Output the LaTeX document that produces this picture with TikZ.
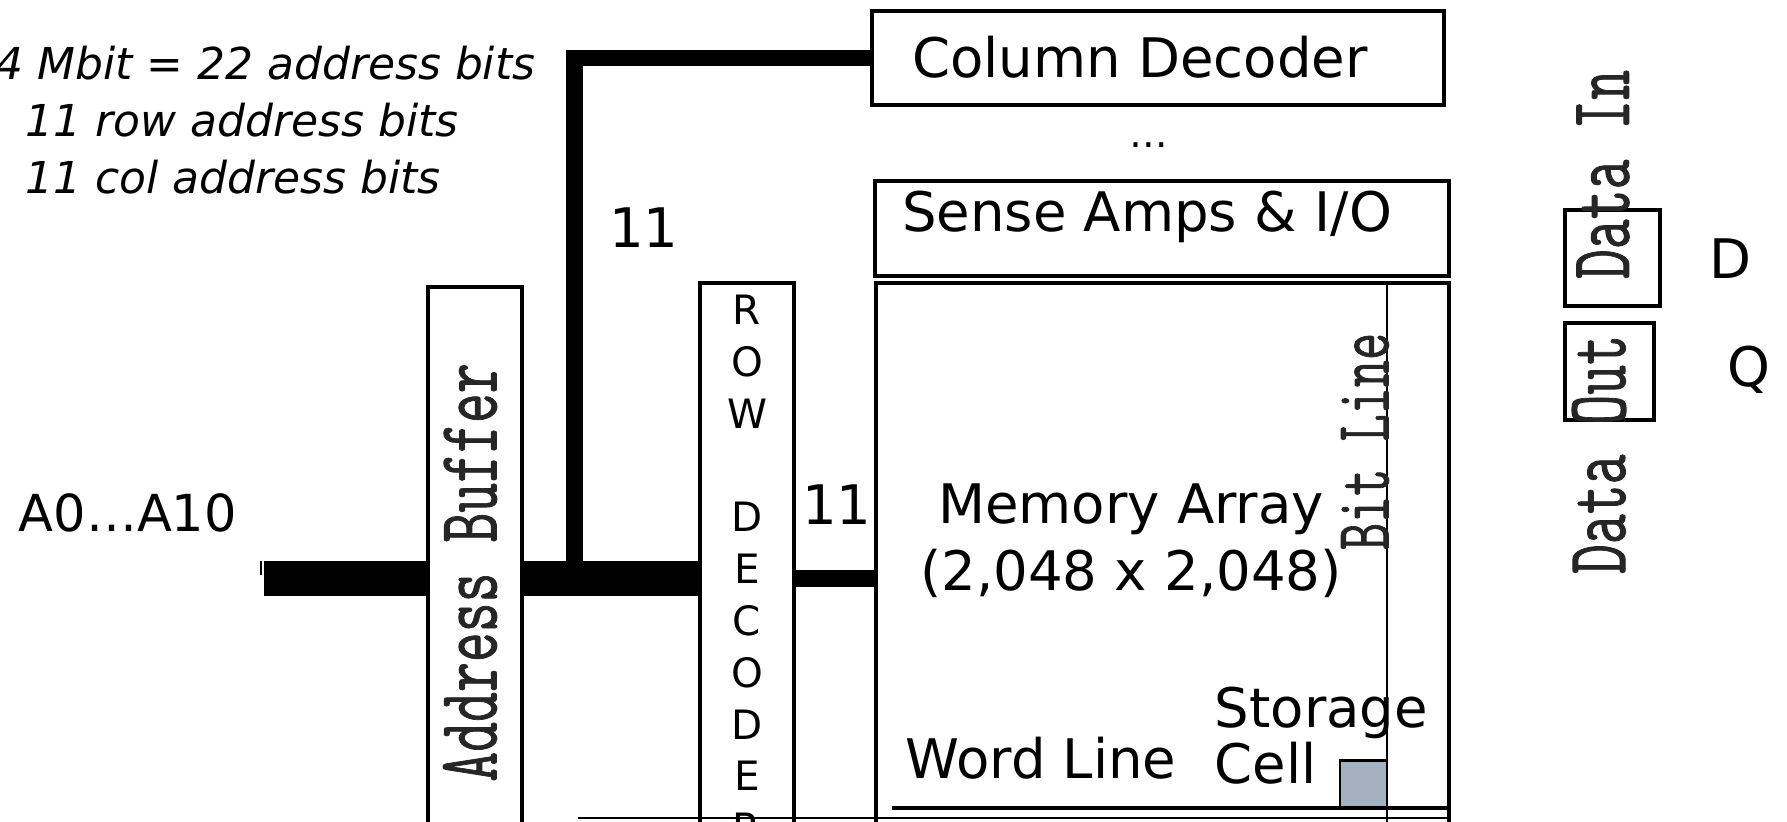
\documentclass[tikz,border=0pt]{standalone}
\usepackage{fontspec}
\setmainfont{DejaVu Sans}
\newfontfamily\codefont[FakeBold=1.2]{Latin Modern Mono}
\usepackage{tikz}
\definecolor{cellgray}{HTML}{A3B1C0}
\newcommand{\stretchtext}[1]{\scalebox{1}[1.47]{#1}}
\tikzset{block/.style={draw,line width=1.3pt,inner sep=0pt,outer sep=0pt},lbl/.style={inner sep=0pt,font=\fontsize{15.5}{19}\selectfont},note/.style={inner sep=0pt,anchor=west,font=\fontsize{12.5}{15}\selectfont\itshape},vlbl/.style={inner sep=0pt,rotate=90,text=black!85,font=\fontsize{16.5}{18}\selectfont\codefont},decletter/.style={inner sep=0pt,font=\fontsize{11.5}{13}\selectfont},bus/.style={line width=10pt},colbus/.style={line width=4.6pt},rowbus/.style={line width=5pt},wire/.style={line width=.6pt},cell/.style={draw,line width=.8pt,fill=cellgray,inner sep=0pt,outer sep=0pt,minimum size=.47cm}}

\begin{document}
\begin{tikzpicture}[x=0.01cm,y=-0.01cm]
 \useasboundingbox (0,0) rectangle (1787,822);
 \node[block,minimum width=5.72cm,minimum height=.94cm] (coldec) at (1158,58) {};
 \node[block,minimum width=5.74cm,minimum height=.95cm] (sense) at (1162,228.5) {};
 \node[block,minimum width=5.73cm,minimum height=6.17cm] (memarr) at (1162.5,591.5) {};
 \node[block,minimum width=.94cm,minimum height=6.17cm] (rowdec) at (747,591.5) {};
 \node[block,minimum width=.94cm,minimum height=6.13cm] (addrbuf) at (475,593.5) {};
 \node[block,minimum width=.95cm,minimum height=.96cm] (din) at (1612.5,258) {};
 \node[block,minimum width=.89cm,minimum height=.97cm] (dout) at (1609.5,371.5) {};
 \node[lbl] (coldectxt) at (1140,57) {Column Decoder};
 \node[lbl,font=\fontsize{11}{13}\selectfont] (dots) at (1149,145) {…};
 \node[lbl] (sensetxt) at (1147,217) {Sense Amps \& I/O};
 \node[lbl,align=center] (memtxt) at (1131,541) {Memory Array\\(2,048 x 2,048)};
 \node[lbl] (wltxt) at (1041,758) {Word Line};
 \node[lbl,align=left,anchor=west,font=\fontsize{15.5}{14.5}\selectfont] (celltxt) at (1214,736) {Storage\\Cell};
 \coordinate (bltop) at (1387,283);
 \draw[wire] (bltop) -- (bltop |- 0,900);
 \coordinate (wl) at (892,808);
 \draw[line width=.9pt] (wl) -- (wl -| memarr.east);
 \coordinate (base) at (578,818);
 \draw[wire] (base) -- (base -| memarr.east);
 \node[cell] (stcell) at (1363.5,784) {};
 \node[vlbl,font=\fontsize{15}{17}\selectfont\codefont] (bltxt) at (1365,441.5) {\stretchtext{Bit Line}};
 \node[vlbl] (abtxt) at (470,572.5) {\stretchtext{Address Buffer}};
 \node[vlbl] (dintxt) at (1603,174.5) {\stretchtext{Data In}};
 \node[vlbl] (douttxt) at (1599,454.5) {\stretchtext{Data Out}};
 \foreach \ch/\k in {R/0,O/1,W/2,D/4,E/5,C/6,O/7,D/8,E/9,R/10}
   \node[decletter] (rd\k) at (747,{310+51.8*\k}) {\ch};
 \coordinate (ain) at (264,578.5);
 \coordinate (tap) at (574.5,570);
 \draw[colbus] (tap) |- (coldec.west);
 \draw[bus] (ain) -- (ain -| addrbuf.west);
 \draw[bus] (addrbuf.east |- ain) -- (rowdec.west |- ain);
 \draw[rowbus] (rowdec.east |- ain) -- (memarr.west |- ain);
 \draw[line width=.8pt] (261,561) -- (261,575);
 \node[lbl] (colbits) at (644,228) {11};
 \node[lbl] (rowbits) at (837,505) {11};
 \node[lbl,anchor=west,font=\fontsize{14.5}{17}\selectfont] (addrin) at (18,513) {A0…A10};
 \node[lbl] (dpin) at (1730,259) {D};
 \node[lbl] (qpin) at (1749,370) {Q};
 \node[note,anchor=east] (bits) at (536,63) {4 Mbit = 22 address bits};
 \node[note] (rowtxt) at (25,120) {11 row address bits};
 \node[note] (coltxt) at (25,177) {11 col address bits};
\end{tikzpicture}
\end{document}
